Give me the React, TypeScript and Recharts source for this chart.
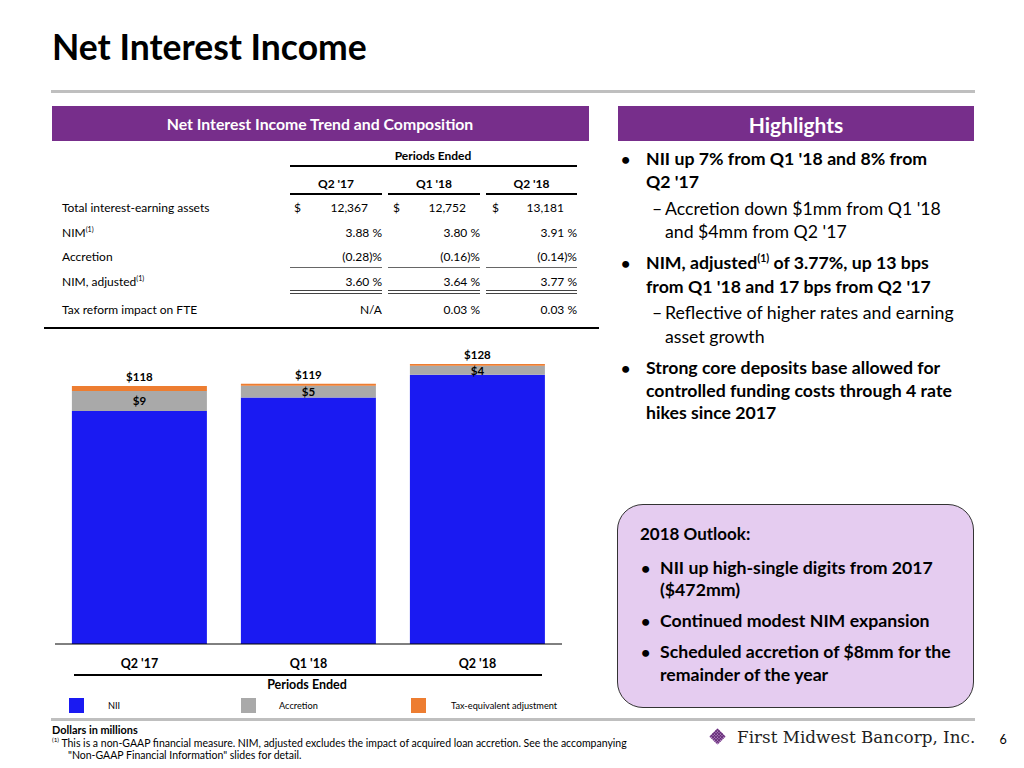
import React from "react";
import { BarChart, Bar, XAxis, YAxis } from "recharts";

// ---------- DATA ----------
const periods = ["Q2 '17", "Q1 '18", "Q2 '18"];
const niiValues = [106.6, 112.7, 123.1];
const accretionValues = [9.1, 5.4, 4.1];
const taxEquivValues = [2.3, 0.9, 0.8];
const seriesNames = ["NII", "Accretion", "Tax-equivalent adjustment"];
const seriesColors = ["#1A1AF2", "#A9A9A9", "#ED7D31"];

const tableColumns = ["Q2 '17", "Q1 '18", "Q2 '18"];
const earningAssets = ["12,367", "12,752", "13,181"];
const nimValues = ["3.88 %", "3.80 %", "3.91 %"];
const accretionRates = ["(0.28)%", "(0.16)%", "(0.14)%"];
const nimAdjusted = ["3.60 %", "3.64 %", "3.77 %"];
const taxReformImpact = ["N/A", "0.03 %", "0.03 %"];

const FONT = "Lato, 'Open Sans', sans-serif";
const PURPLE = "#772E8B";

const chartData = periods.map((p, i) => ({
  period: p,
  nii: niiValues[i],
  accretion: accretionValues[i],
  tax: taxEquivValues[i],
}));

type TxtProps = {
  x: number;
  y: number;
  children: React.ReactNode;
  size?: number;
  weight?: number;
  anchor?: "left" | "center" | "right";
  color?: string;
  family?: string;
  style?: React.CSSProperties;
};

const Txt = ({ x, y, children, size = 11, weight = 400, anchor = "left", color = "#000", family = FONT, style }: TxtProps) => {
  const tx = anchor === "left" ? "0" : anchor === "center" ? "-50%" : "-100%";
  return (
    <div
      style={{
        position: "absolute",
        left: x,
        top: y,
        transform: `translate(${tx}, -50%)`,
        fontSize: size,
        fontWeight: weight,
        color,
        fontFamily: family,
        whiteSpace: "nowrap",
        lineHeight: 1,
        ...style,
      }}
    >
      {children}
    </div>
  );
};

const HLine = ({ x1, x2, y, w = 1, color = "#000" }: { x1: number; x2: number; y: number; w?: number; color?: string }) => (
  <div style={{ position: "absolute", left: x1, top: y - w / 2, width: x2 - x1, height: w, background: color }} />
);

const Sup = ({ children }: { children: React.ReactNode }) => (
  <span style={{ fontSize: "0.6em", verticalAlign: "super", lineHeight: 0 }}>{children}</span>
);

const renderTotalLabel = (props: any) => {
  const { x, y, width, index } = props;
  const total = niiValues[index] + accretionValues[index] + taxEquivValues[index];
  return (
    <text
      key={`tot-${index}`}
      x={Number(x) + Number(width) / 2}
      y={Number(y) - 5}
      textAnchor="middle"
      fontSize={11.5}
      fontWeight={700}
      fill="#000"
      fontFamily={FONT}
    >
      {`$${Math.round(total)}`}
    </text>
  );
};

const renderAccretionLabel = (props: any) => {
  const { x, y, width, height, index } = props;
  return (
    <text
      key={`acc-${index}`}
      x={Number(x) + Number(width) / 2}
      y={Number(y) + Number(height) / 2}
      textAnchor="middle"
      dominantBaseline="central"
      fontSize={11.5}
      fontWeight={700}
      fill="#000"
      fontFamily={FONT}
    >
      {`$${Math.round(accretionValues[index])}`}
    </text>
  );
};

const colRight = [382, 480, 577];
const colDollar = [294, 393, 492];
const colRightNum = [368, 466, 564];
const colSegs = [
  [290, 382],
  [388, 480],
  [486, 577],
];

const rowY = { assets: 208, nim: 233, accretion: 257, nimAdj: 282, tax: 310 };
const TS = 12;

export default function App() {
  return (
    <div
      style={{
        position: "absolute",
        left: 0,
        top: 0,
        width: 1024,
        height: 768,
        background: "#fff",
        overflow: "hidden",
        fontFamily: FONT,
      }}
    >
      {/* Title */}
      <Txt x={52} y={47} size={35.5} weight={700}>
        Net Interest Income
      </Txt>
      <HLine x1={51} x2={975} y={91} w={3} color="#BFBFBF" />

      {/* Left header */}
      <div style={{ position: "absolute", left: 52, top: 106, width: 537, height: 35, background: PURPLE }} />
      <Txt x={320} y={124} size={15.8} weight={700} anchor="center" color="#fff">
        Net Interest Income Trend and Composition
      </Txt>

      {/* Right header */}
      <div style={{ position: "absolute", left: 618, top: 106, width: 356, height: 35, background: PURPLE }} />
      <Txt x={796} y={124} size={21} weight={700} anchor="center" color="#fff">
        Highlights
      </Txt>

      {/* Table */}
      <Txt x={433} y={156} size={TS} weight={700} anchor="center">
        Periods Ended
      </Txt>
      <HLine x1={290} x2={577} y={166} w={1.2} />
      {tableColumns.map((c, i) => (
        <Txt key={c} x={(colSegs[i][0] + colSegs[i][1]) / 2} y={184} size={TS} weight={700} anchor="center">
          {c}
        </Txt>
      ))}
      {colSegs.map((s, i) => (
        <HLine key={`h${i}`} x1={s[0]} x2={s[1]} y={194} w={1.2} />
      ))}

      <Txt x={62} y={rowY.assets} size={TS}>Total interest-earning assets</Txt>
      {earningAssets.map((v, i) => (
        <React.Fragment key={`a${i}`}>
          <Txt x={colDollar[i]} y={rowY.assets} size={TS}>$</Txt>
          <Txt x={colRightNum[i]} y={rowY.assets} size={TS} anchor="right">{v}</Txt>
        </React.Fragment>
      ))}

      <Txt x={62} y={rowY.nim} size={TS}>
        NIM<Sup>(1)</Sup>
      </Txt>
      {nimValues.map((v, i) => (
        <Txt key={`n${i}`} x={colRight[i]} y={rowY.nim} size={TS} anchor="right">{v}</Txt>
      ))}

      <Txt x={62} y={rowY.accretion} size={TS}>Accretion</Txt>
      {accretionRates.map((v, i) => (
        <Txt key={`r${i}`} x={colRight[i]} y={rowY.accretion} size={TS} anchor="right">{v}</Txt>
      ))}
      {colSegs.map((s, i) => (
        <HLine key={`s${i}`} x1={s[0]} x2={s[1]} y={267} w={1} color="#666" />
      ))}

      <Txt x={62} y={rowY.nimAdj} size={TS}>
        NIM, adjusted<Sup>(1)</Sup>
      </Txt>
      {nimAdjusted.map((v, i) => (
        <Txt key={`j${i}`} x={colRight[i]} y={rowY.nimAdj} size={TS} anchor="right">{v}</Txt>
      ))}
      {colSegs.map((s, i) => (
        <React.Fragment key={`d${i}`}>
          <HLine x1={s[0]} x2={s[1]} y={290.5} w={1} color="#444" />
          <HLine x1={s[0]} x2={s[1]} y={293.5} w={1} color="#444" />
        </React.Fragment>
      ))}

      <Txt x={62} y={rowY.tax} size={TS}>Tax reform impact on FTE</Txt>
      {taxReformImpact.map((v, i) => (
        <Txt key={`t${i}`} x={colRight[i]} y={rowY.tax} size={TS} anchor="right">{v}</Txt>
      ))}
      <HLine x1={44} x2={599} y={328} w={2.5} />

      {/* Chart */}
      <div style={{ position: "absolute", left: 55, top: 330 }}>
        <BarChart
          width={507}
          height={354}
          data={chartData}
          margin={{ top: 0, right: 0, bottom: 0, left: 0 }}
          barCategoryGap="10%"
        >
          <XAxis
            dataKey="period"
            axisLine={{ stroke: "#000", strokeWidth: 1 }}
            tickLine={false}
            tickSize={0}
            tickMargin={15}
            height={40}
            interval={0}
            tick={{ fill: "#000", fontSize: 12.5, fontWeight: 700, fontFamily: FONT }}
          />
          <YAxis hide domain={[0, 143.6]} />
          <Bar dataKey="nii" stackId="a" fill={seriesColors[0]} isAnimationActive={false} />
          <Bar
            dataKey="accretion"
            stackId="a"
            fill={seriesColors[1]}
            isAnimationActive={false}
            label={renderAccretionLabel}
          />
          <Bar dataKey="tax" stackId="a" fill={seriesColors[2]} isAnimationActive={false} label={renderTotalLabel} />
        </BarChart>
      </div>

      <HLine x1={74} x2={542} y={675} w={1.2} />
      <Txt x={307} y={685} size={12.5} weight={700} anchor="center">
        Periods Ended
      </Txt>

      {/* Legend */}
      {seriesNames.map((n, i) => {
        const sx = [69, 241, 411][i];
        const tx = [108, 279, 451][i];
        return (
          <React.Fragment key={n}>
            <div style={{ position: "absolute", left: sx, top: 698, width: 15, height: 15, background: seriesColors[i] }} />
            <Txt x={tx} y={706} size={9.2}>
              {n}
            </Txt>
          </React.Fragment>
        );
      })}

      <HLine x1={51} x2={975} y={719} w={3} color="#BFBFBF" />

      {/* Highlights */}
      {(() => {
        const B = 17.7;
        const items: { y: number; t: string | React.ReactNode; level: 0 | 1; bullet?: boolean }[] = [
          { y: 159, t: "NII up 7% from Q1 '18 and 8% from", level: 0, bullet: true },
          { y: 182, t: "Q2 '17", level: 0 },
          { y: 209, t: "Accretion down $1mm from Q1 '18", level: 1, bullet: true },
          { y: 232, t: "and $4mm from Q2 '17", level: 1 },
          {
            y: 263,
            t: (
              <>
                NIM, adjusted<Sup>(1)</Sup> of 3.77%, up 13 bps
              </>
            ),
            level: 0,
            bullet: true,
          },
          { y: 287, t: "from Q1 '18 and 17 bps from Q2 '17", level: 0 },
          { y: 313, t: "Reflective of higher rates and earning", level: 1, bullet: true },
          { y: 337, t: "asset growth", level: 1 },
          { y: 368, t: "Strong core deposits base allowed for", level: 0, bullet: true },
          { y: 391, t: "controlled funding costs through 4 rate", level: 0 },
          { y: 413, t: "hikes since 2017", level: 0 },
        ];
        return items.map((it, i) => (
          <React.Fragment key={`hl${i}`}>
            {it.bullet && it.level === 0 && (
              <Txt x={621} y={it.y} size={16} weight={700}>
                •
              </Txt>
            )}
            {it.bullet && it.level === 1 && (
              <Txt x={652} y={it.y} size={B}>
                –
              </Txt>
            )}
            <Txt x={it.level === 0 ? 646 : 665} y={it.y} size={B} weight={it.level === 0 ? 700 : 400}>
              {it.t}
            </Txt>
          </React.Fragment>
        ));
      })()}

      {/* Outlook box */}
      <div
        style={{
          position: "absolute",
          left: 617,
          top: 504,
          width: 357,
          height: 204,
          background: "#E5CCF0",
          border: "1.5px solid #333",
          borderRadius: 26,
          boxSizing: "border-box",
        }}
      />
      <Txt x={640} y={533} size={17} weight={700}>
        2018 Outlook:
      </Txt>
      {[
        { y: 568, t: "NII up high-single digits from 2017", b: true },
        { y: 590, t: "($472mm)", b: false },
        { y: 621, t: "Continued modest NIM expansion", b: true },
        { y: 652, t: "Scheduled accretion of $8mm for the", b: true },
        { y: 675, t: "remainder of the year", b: false },
      ].map((it, i) => (
        <React.Fragment key={`o${i}`}>
          {it.b && (
            <Txt x={641} y={it.y} size={16} weight={700}>
              •
            </Txt>
          )}
          <Txt x={660} y={it.y} size={17.7} weight={700}>
            {it.t}
          </Txt>
        </React.Fragment>
      ))}

      {/* Footnotes */}
      <Txt x={52} y={730} size={10.9} weight={700}>
        Dollars in millions
      </Txt>
      <Txt x={52} y={743} size={10.5}>
        <Sup>(1)</Sup> This is a non-GAAP financial measure. NIM, adjusted excludes the impact of acquired loan accretion. See the accompanying
      </Txt>
      <Txt x={68} y={755} size={10.5}>
        "Non-GAAP Financial Information" slides for detail.
      </Txt>

      {/* Logo */}
      <svg style={{ position: "absolute", left: 708, top: 727 }} width={19} height={19} viewBox="0 0 18 18">
        <g transform="rotate(45 9 9)">
          <rect x={3.5} y={3.5} width={11} height={11} fill="#B58AC4" />
          {[4.5, 6.5, 8.5, 10.5, 12.5].map((p) => (
            <React.Fragment key={p}>
              <line x1={p} y1={3.5} x2={p} y2={14.5} stroke="#5E2470" strokeWidth={0.9} />
              <line x1={3.5} y1={p} x2={14.5} y2={p} stroke="#5E2470" strokeWidth={0.9} />
            </React.Fragment>
          ))}
        </g>
      </svg>
      <Txt x={737} y={737} size={16.8} weight={400} color="#1F1F1F" family="'DejaVu Serif', serif">
        First Midwest Bancorp, Inc.
      </Txt>
      <Txt x={1003} y={740} size={12.5} anchor="center">
        6
      </Txt>
    </div>
  );
}
